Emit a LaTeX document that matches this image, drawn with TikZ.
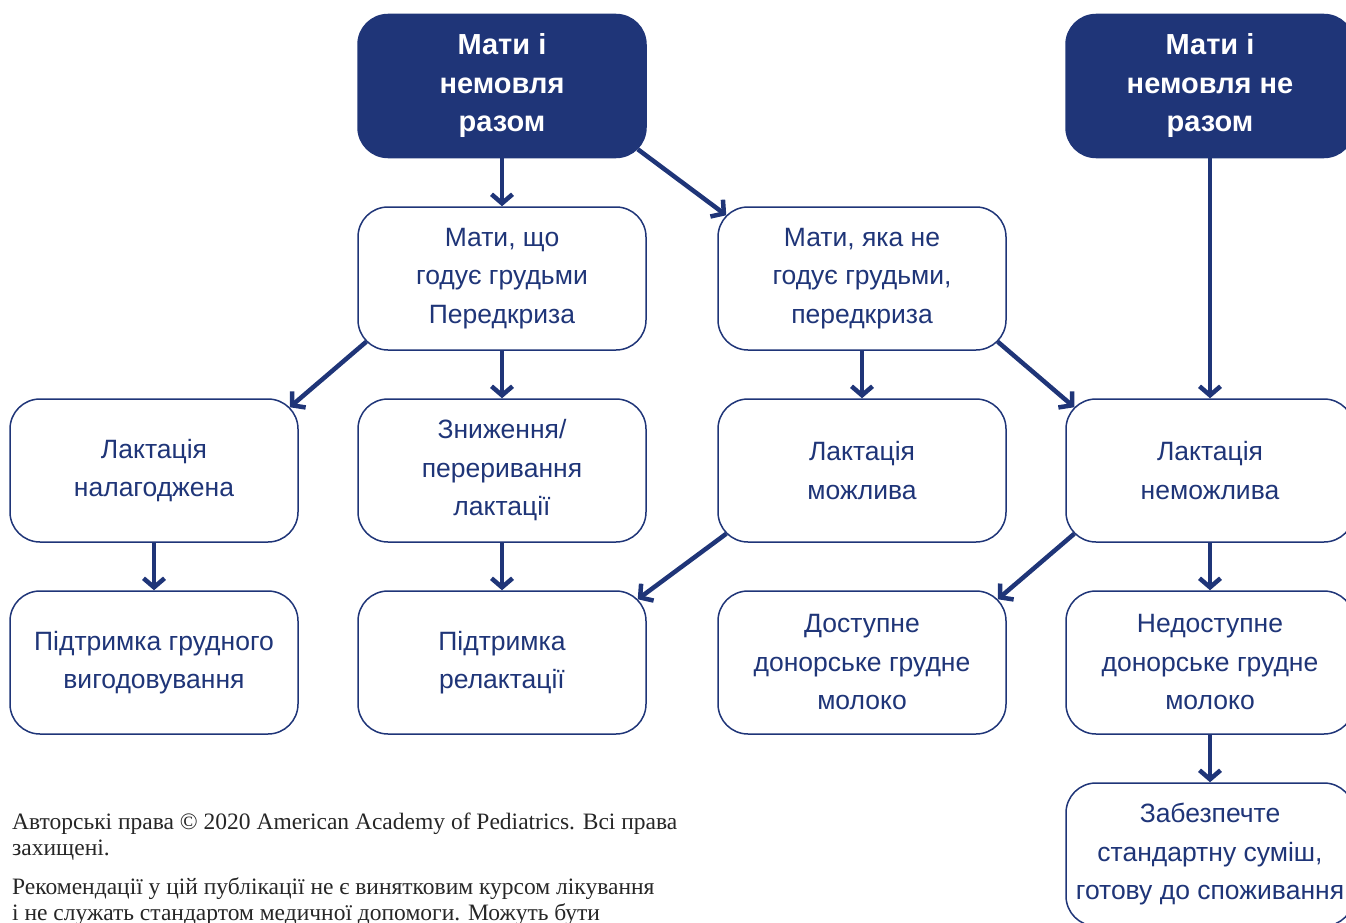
\documentclass[tikz,border=0pt]{standalone}
\usepackage{fontspec}
\setmainfont{Liberation Sans}
\newfontfamily\footserif{Liberation Serif}
\usetikzlibrary{arrows.meta}
\definecolor{navy}{HTML}{1F3578}
\begin{document}
\begin{tikzpicture}[x=1pt,y=-1pt,
  box/.style={draw=navy, line width=1.5pt, rounded corners=30pt, fill=white,
    minimum width=288pt, minimum height=143pt, inner sep=0pt, align=center,
    text=navy, font=\fontsize{26.5}{38.5}\selectfont},
  topbox/.style={box, fill=navy, draw=navy, text=white,
    font=\fontsize{29}{38.5}\selectfont\bfseries},
  conn/.style={draw=navy, line width=4.5pt, -{Straight Barb[length=9pt,width=21pt]}},
  foot/.style={anchor=base west, inner sep=0pt, text=black!85,
    font=\footserif\fontsize{23.5}{26.5}\selectfont}]
\useasboundingbox (0,0) rectangle (1346,923);
\clip (0,0) rectangle (1346,923);
% top row
\node[topbox] (t1) at (502,86) {Мати і\\немовля\\разом};
\node[topbox] (t2) at (1210,86) {Мати і\\немовля не\\разом};
% row 1
\node[box] (b12) at (502,278.5) {Мати, що\\годує грудьми\\Передкриза};
\node[box] (b13) at (862,278.5) {Мати, яка не\\годує грудьми,\\передкриза};
% row 2
\node[box] (b21) at (154,470.5) {Лактація\\налагоджена};
\node[box] (b22) at (502,470.5) {Зниження/\\переривання\\лактації};
\node[box] (b23) at (862,470.5) {Лактація\\можлива};
\node[box] (b24) at (1210,470.5) {Лактація\\неможлива};
% row 3
\node[box] (b31) at (154,662.5) {Підтримка грудного\\вигодовування};
\node[box] (b32) at (502,662.5) {Підтримка\\релактації};
\node[box] (b33) at (862,662.5) {Доступне\\донорське грудне\\молоко};
\node[box] (b34) at (1210,662.5) {Недоступне\\донорське грудне\\молоко};
% row 4
\node[box] (b44) at (1210,854.5) {Забезпечте\\стандартну суміш,\\готову до споживання};
% connectors
\draw[conn] (t1.south) -- (b12.north);
\draw[conn] ([shift={(-9,-9)}]t1.south east) -- ([shift={(9,9)}]b13.north west);
\draw[conn] (t2.south) -- (b24.north);
\draw[conn] ([shift={(9,-9)}]b12.south west) -- ([shift={(-9,9)}]b21.north east);
\draw[conn] (b12.south) -- (b22.north);
\draw[conn] (b13.south) -- (b23.north);
\draw[conn] ([shift={(-9,-9)}]b13.south east) -- ([shift={(9,9)}]b24.north west);
\draw[conn] (b21.south) -- (b31.north);
\draw[conn] (b22.south) -- (b32.north);
\draw[conn] ([shift={(9,-9)}]b23.south west) -- ([shift={(-9,9)}]b32.north east);
\draw[conn] ([shift={(9,-9)}]b24.south west) -- ([shift={(-9,9)}]b33.north east);
\draw[conn] (b24.south) -- (b34.north);
\draw[conn] (b34.south) -- (b44.north);
% footer
\node[foot] (f1) at (12,829) {Авторські права © 2020 American Academy of Pediatrics. Всі права};
\node[foot] (f2) at (12,855) {захищені.};
\node[foot] (f3) at (12,894) {Рекомендації у цій публікації не є винятковим курсом лікування};
\node[foot] (f4) at (12,920) {і не служать стандартом медичної допомоги. Можуть бути};
\end{tikzpicture}
\end{document}
